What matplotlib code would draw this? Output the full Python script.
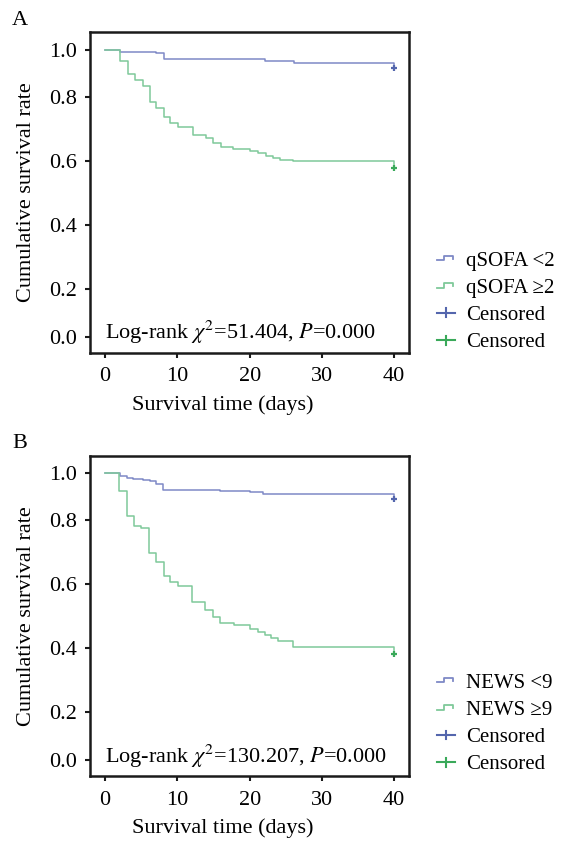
import numpy as np
import matplotlib
matplotlib.use("Agg")
import matplotlib.pyplot as plt
from matplotlib.lines import Line2D
from matplotlib.legend_handler import HandlerBase

plt.rcParams['font.family'] = ['Liberation Serif', 'DejaVu Serif']
plt.rcParams['mathtext.fontset'] = 'stix'

# ---------------- data ----------------
x_ticks = [0, 10, 20, 30, 40]
y_ticks = [0.0, 0.2, 0.4, 0.6, 0.8, 1.0]

a_low_t = [0, 2.0, 7.1, 8.1, 22.1, 26.1, 40]
a_low_s = [1.0, 0.991, 0.987, 0.959, 0.952, 0.944, 0.924]
a_high_t = [0, 2.0, 3.1, 4.1, 5.2, 6.2, 7.1, 8.1, 9.0, 10.1, 12.1, 14.0, 14.9,
            16.1, 17.7, 20.0, 21.2, 22.3, 23.2, 24.2, 26.0, 40]
a_high_s = [1.0, 0.952, 0.895, 0.872, 0.847, 0.784, 0.766, 0.738, 0.717, 0.707,
            0.681, 0.670, 0.655, 0.644, 0.637, 0.631, 0.625, 0.616, 0.609, 0.602,
            0.599, 0.576]

b_low_t = [0, 2.1, 3.0, 3.9, 5.3, 6.2, 7.1, 8.0, 15.9, 20.0, 21.9, 40]
b_low_s = [1.0, 0.987, 0.979, 0.974, 0.970, 0.965, 0.955, 0.929, 0.923, 0.919,
           0.913, 0.890]
b_high_t = [0, 1.9, 3.0, 4.0, 5.0, 6.0, 7.0, 8.1, 9.0, 10.1, 12.0, 13.8, 14.9,
            15.9, 17.9, 20.0, 21.2, 22.1, 23.0, 23.9, 26.0, 40]
b_high_s = [1.0, 0.924, 0.817, 0.783, 0.777, 0.696, 0.670, 0.625, 0.607, 0.595,
            0.543, 0.519, 0.498, 0.480, 0.472, 0.461, 0.449, 0.441, 0.430, 0.422,
            0.404, 0.380]

panels = [
    dict(tag="A", t1=a_low_t, s1=a_low_s, t2=a_high_t, s2=a_high_s,
         lab1="qSOFA <2", lab2="qSOFA \u22652",
         stat=r"Log-rank $\chi^{2}$=51.404, $P$=0.000"),
    dict(tag="B", t1=b_low_t, s1=b_low_s, t2=b_high_t, s2=b_high_s,
         lab1="NEWS <9", lab2="NEWS \u22659",
         stat=r"Log-rank $\chi^{2}$=130.207, $P$=0.000"),
]

# ---------------- style ----------------
c_blue = "#7e89c6"
c_green = "#7fc99a"
c_blue_d = "#5466ad"
c_green_d = "#3aa95a"

# piecewise scale of the printed axis (ticks unevenly spaced in the original)
_V = np.array([-1.0, 0.0, 0.2, 0.4, 0.6, 0.8, 1.0, 2.0])
_P = np.array([-3.79, 0.0, 0.758, 1.758, 2.758, 3.758, 4.497, 8.192])
def fwd(v):
    return np.interp(v, _V, _P)
def inv(p):
    return np.interp(p, _P, _V)


class StepHandler(HandlerBase):
    def create_artists(self, legend, orig_handle, xdescent, ydescent,
                       width, height, fontsize, trans):
        x = np.array([0, 0.38, 0.38, 0.92, 0.92]) * width - xdescent
        y0 = height * 0.35 - ydescent
        y1 = height * 0.68 - ydescent
        y = np.array([y0, y0, y1, y1, y0 + (y1 - y0) * 0.35])
        ln = Line2D(x, y, color=orig_handle.get_color(), lw=1.3)
        ln.set_transform(trans)
        return [ln]


class CensorHandler(HandlerBase):
    def create_artists(self, legend, orig_handle, xdescent, ydescent,
                       width, height, fontsize, trans):
        yc = height * 0.5 - ydescent
        h = Line2D([-xdescent, width - xdescent], [yc, yc],
                   color=orig_handle.get_color(), lw=1.5)
        v = Line2D([width / 2 - xdescent] * 2, [yc - height * 0.3, yc + height * 0.3],
                   color=orig_handle.get_color(), lw=1.5)
        h.set_transform(trans)
        v.set_transform(trans)
        return [h, v]


W, H = 561, 841
fig = plt.figure(figsize=(W / 100, H / 100), dpi=100)

boxes = [(90, 32.3, 409.3, 352.7), (90, 455.7, 409.3, 776.0)]
leg_tops = [251, 673]

for p, (l, t, r, b), lt in zip(panels, boxes, leg_tops):
    ax = fig.add_axes([l / W, 1 - b / H, (r - l) / W, (b - t) / H])
    ax.set_yscale('function', functions=(fwd, inv))
    ax.set_xlim(-2.1, 42.1)
    ax.set_ylim(-0.064, 1.073)
    ax.set_xticks(x_ticks)
    ax.set_yticks(y_ticks)
    ax.set_yticklabels([f"{v:.1f}" for v in y_ticks])
    ax.yaxis.set_minor_locator(matplotlib.ticker.NullLocator())
    for sp in ax.spines.values():
        sp.set_linewidth(1.8)
        sp.set_color("#1a1a1a")
    ax.tick_params(direction='out', length=3.5, width=1.5, labelsize=16,
                   pad=6, color="#1a1a1a")
    ax.tick_params(axis='x', pad=7)

    l1, = ax.step(p["t1"], p["s1"], where='post', color=c_blue, lw=1.1)
    l2, = ax.step(p["t2"], p["s2"], where='post', color=c_green, lw=1.1)
    m1, = ax.plot([p["t1"][-1]], [p["s1"][-1]], ls='none', marker='+',
                  ms=5, mew=1.6, color=c_blue_d)
    m2, = ax.plot([p["t2"][-1]], [p["s2"][-1]], ls='none', marker='+',
                  ms=5, mew=1.6, color=c_green_d)

    ax.text(0.047, 0.042, p["stat"], transform=ax.transAxes, fontsize=16,
            ha='left', va='baseline')

    ax.set_xlabel("Survival time (days)", fontsize=16)
    ax.xaxis.set_label_coords(0.4165, -0.133)
    ax.set_ylabel("Cumulative survival rate", fontsize=16)
    ax.yaxis.set_label_coords(-0.17, 0.5)

    fig.text(12 / W, 1 - (t - 12) / H, p["tag"], fontsize=16,
             ha='left', va='center')

    h1 = Line2D([], [], color=c_blue)
    h2 = Line2D([], [], color=c_green)
    h3 = Line2D([], [], color=c_blue_d)
    h4 = Line2D([], [], color=c_green_d)
    fig.legend([h1, h2, h3, h4], [p["lab1"], p["lab2"], "Censored", "Censored"],
               handler_map={h1: StepHandler(), h2: StepHandler(),
                            h3: CensorHandler(), h4: CensorHandler()},
               loc='upper left', bbox_to_anchor=(437 / W, 1 - lt / H),
               bbox_transform=fig.transFigure, frameon=False, fontsize=15,
               borderpad=0, borderaxespad=0, handlelength=0.86,
               handletextpad=0.55, labelspacing=0.37)

fig.savefig("out.png", dpi=100)
